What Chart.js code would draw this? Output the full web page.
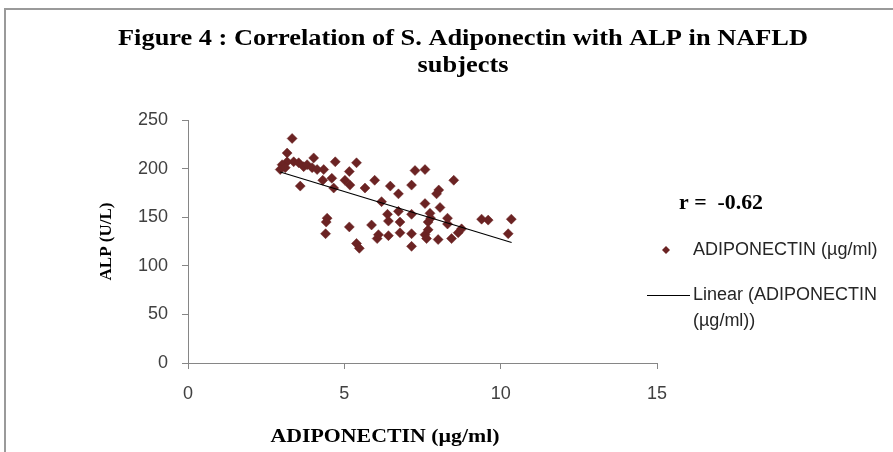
<!DOCTYPE html>
<html><head><meta charset="utf-8">
<script src="https://cdn.jsdelivr.net/npm/chart.js@4"></script>
<style>
html,body{margin:0;padding:0;background:#fff;}
#wrap{position:relative;width:893px;height:452px;overflow:hidden;background:#fff;}
canvas{position:absolute;left:0;top:0;}
#frame{position:absolute;left:4px;top:8px;width:900px;height:460px;border-left:2px solid #9a9a9a;border-top:2px solid #9a9a9a;pointer-events:none;}
</style></head><body>
<div id="wrap"><canvas id="c" width="893" height="452"></canvas><div id="frame"></div></div>
<script>
// ---- data ----
const adiponectin = [3.33,3.17,3.17,3.38,3.01,2.95,3.11,3.54,3.70,3.81,4.02,3.97,4.13,4.34,4.71,5.16,3.59,4.31,4.60,4.66,5.02,5.39,5.18,5.66,5.97,6.47,4.45,4.42,4.40,5.16,5.87,5.39,5.48,6.05,6.73,7.26,7.15,6.19,6.38,6.73,7.15,6.41,6.78,6.09,6.41,6.78,7.15,7.15,7.58,8.50,8.02,7.95,7.58,8.06,7.74,8.30,9.39,9.60,10.34,7.68,8.30,7.58,7.68,7.63,8.00,8.43,8.64,8.75,10.24,7.76];
const alp = [231,216,207,207,204,199,201,206,202,204,211,201,199,199,207,197,182,188,190,180,188,206,183,180,188,182,149,145,133,140,142,123,118,128,174,198,183,166,153,156,153,146,145,132,131,134,133,120,199,188,178,174,164,160,154,149,148,147,148,145,143,132,137,128,127,128,134,138,133,149];
const trendX = [2.95, 10.35];
const trendY = [196.5, 124];
const xTicks = [0, 5, 10, 15];
const yTicks = [0, 50, 100, 150, 200, 250];
const titleLines = ['Figure 4 : Correlation of S. Adiponectin with ALP in NAFLD', 'subjects'];
const xTitle = 'ADIPONECTIN (\u00b5g/ml)';
const yTitle = 'ALP (U/L)';
const rText = 'r =  -0.62';
const seriesLabel = 'ADIPONECTIN (\u00b5g/ml)';
const trendLabel = ['Linear (ADIPONECTIN', '(\u00b5g/ml))'];

const pointColor = '#6b2323';
const axisColor = '#868686';
const tickFont = {family: 'Liberation Sans', size: 18};

function fitText(ctx, text, x, y, font, targetW, align, color, scaleOverride) {
  ctx.save();
  ctx.font = font; ctx.fillStyle = color; ctx.textBaseline = 'middle';
  const w = ctx.measureText(text).width;
  const s = scaleOverride || (targetW ? targetW / w : 1);
  ctx.translate(x, y); ctx.scale(s, 1);
  ctx.textAlign = align;
  ctx.fillText(text, 0, 0);
  ctx.restore();
  return s;
}

const textPlugin = {
  id: 'texts',
  afterDraw(chart) {
    const ctx = chart.ctx;
    const tf = 'bold 24px "Liberation Serif"';
    ctx.save();
    ctx.font = tf;
    const s = 690 / ctx.measureText(titleLines[0]).width;
    ctx.restore();
    fitText(ctx, titleLines[0], 463, 39, tf, 0, 'center', '#000', s);
    fitText(ctx, titleLines[1], 463, 66, tf, 0, 'center', '#000', s);
    fitText(ctx, xTitle, 385, 437, 'bold 19px "Liberation Serif"', 229, 'center', '#000');
    fitText(ctx, rText, 679, 204, 'bold 20px "Liberation Serif"', 84, 'left', '#000');
    const ds0 = chart.data.datasets[0], ds1 = chart.data.datasets[1];
    ctx.save();
    ctx.fillStyle = ds0.pointBackgroundColor;
    ctx.beginPath();
    const cx = 666, cy = 250, r = 4;
    ctx.moveTo(cx, cy - r); ctx.lineTo(cx + r, cy); ctx.lineTo(cx, cy + r); ctx.lineTo(cx - r, cy); ctx.closePath();
    ctx.fill();
    ctx.strokeStyle = ds1.borderColor; ctx.lineWidth = 1;
    ctx.beginPath(); ctx.moveTo(647, 295.5); ctx.lineTo(690, 295.5); ctx.stroke();
    ctx.restore();
    fitText(ctx, ds0.label, 693, 250, '18px "Liberation Sans"', 0, 'left', '#262626');
    fitText(ctx, trendLabel[0], 693, 295, '18px "Liberation Sans"', 0, 'left', '#262626');
    fitText(ctx, trendLabel[1], 693, 321, '18px "Liberation Sans"', 0, 'left', '#262626');
  }
};

new Chart(document.getElementById('c'), {
  type: 'scatter',
  data: {
    datasets: [
      {
        label: seriesLabel,
        data: adiponectin.map((x, i) => ({x: x, y: alp[i]})),
        pointStyle: 'rectRot', pointRadius: 5,
        pointBackgroundColor: pointColor, pointBorderColor: pointColor, pointBorderWidth: 0.5,
        showLine: false, order: 1
      },
      {
        label: trendLabel.join(' '),
        data: trendX.map((x, i) => ({x: x, y: trendY[i]})),
        showLine: true, borderColor: '#000', borderWidth: 1.2,
        pointRadius: 0, order: 0
      }
    ]
  },
  options: {
    responsive: false, animation: false,
    layout: {padding: {top: 120, right: 236, bottom: 0, left: 0}},
    plugins: {legend: {display: false}, title: {display: false}, tooltip: {enabled: false}},
    scales: {
      x: {
        type: 'linear', min: 0, max: 15,
        afterBuildTicks: s => { s.ticks = xTicks.map(v => ({value: v})); },
        ticks: {padding: 14, color: '#404040', font: tickFont},
        grid: {drawOnChartArea: false, drawTicks: true, tickLength: 6, color: axisColor},
        border: {color: axisColor, width: 1},
        afterFit: s => { s.height = 89; }
      },
      y: {
        type: 'linear', min: 0, max: 250,
        afterBuildTicks: s => { s.ticks = yTicks.map(v => ({value: v})); },
        ticks: {padding: 14, color: '#404040', font: tickFont},
        grid: {drawOnChartArea: false, drawTicks: true, tickLength: 6, color: axisColor},
        border: {color: axisColor, width: 1},
        title: {display: true, text: yTitle, color: '#000', font: {family: 'Liberation Serif', size: 17, weight: 'bold'}, padding: {top: 96, bottom: 0}},
        afterFit: s => { s.width = 188; }
      }
    }
  },
  plugins: [textPlugin]
});
</script>
</body></html>
